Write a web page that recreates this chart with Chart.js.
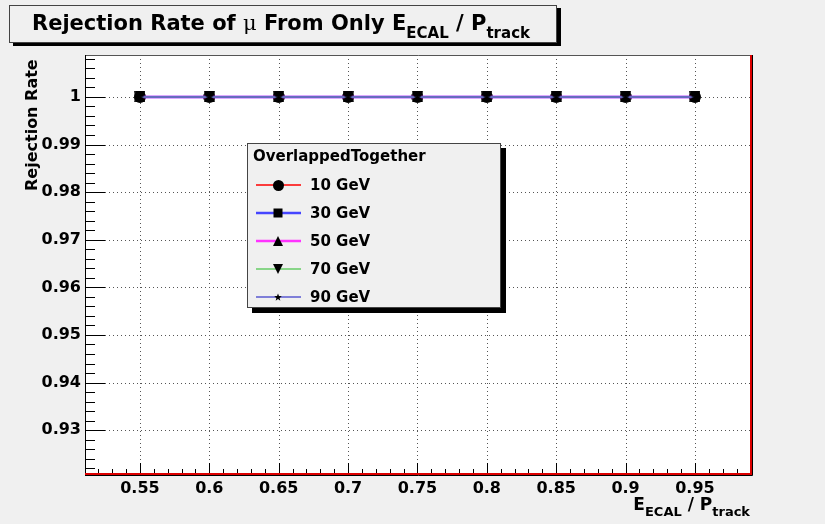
<!DOCTYPE html>
<html><head><meta charset="utf-8">
<script src="https://cdn.jsdelivr.net/npm/chart.js@4/dist/chart.umd.min.js"></script>
<style>
html,body{margin:0;padding:0;background:#f0f0f0;width:825px;height:524px;overflow:hidden;}
#wrap{position:relative;width:825px;height:524px;}
#c{position:absolute;left:0;top:0;}
.t{position:absolute;font-family:"DejaVu Sans";font-weight:bold;color:#000;white-space:nowrap;line-height:1;}
#title{left:9px;top:5px;width:548px;height:38px;border:1px solid #444;background:#f0f0f0;box-shadow:4px 3px 0 #000;box-sizing:border-box;}
#title .txt{position:absolute;left:22px;top:7px;font-size:21px;}
.sub{position:relative;top:8px;font-size:15px;}
.mu{font-family:"DejaVu Serif";font-weight:normal;}
#xt{right:75px;top:496px;font-size:17px;}
#xt .sub{top:6px;font-size:13px;}
#yt{left:24px;top:57px;font-size:16px;transform-origin:0 0;transform:translate(0,134px) rotate(-90deg);}
</style></head>
<body><div id="wrap">
<canvas id="c" width="825" height="524"></canvas>
<div id="title" class="t"><span class="txt">Rejection Rate of <span class="mu">μ</span> From Only E<span class="sub">ECAL</span> / P<span class="sub">track</span></span></div>
<div id="xt" class="t">E<span class="sub">ECAL</span> / P<span class="sub">track</span></div>
<div id="yt" class="t">Rejection Rate</div>
</div>
<script>
// ---- data ----
const eOverP = [0.55, 0.60, 0.65, 0.70, 0.75, 0.80, 0.85, 0.90, 0.95];
const seriesNames = ['10 GeV', '30 GeV', '50 GeV', '70 GeV', '90 GeV'];
const rate10 = [1, 1, 1, 1, 1, 1, 1, 1, 1];
const rate30 = [1, 1, 1, 1, 1, 1, 1, 1, 1];
const rate50 = [1, 1, 1, 1, 1, 1, 1, 1, 1];
const rate70 = [1, 1, 1, 1, 1, 1, 1, 1, 1];
const rate90 = [1, 1, 1, 1, 1, 1, 1, 1, 1];
const xTickLabels = [0.55, 0.6, 0.65, 0.7, 0.75, 0.8, 0.85, 0.9, 0.95];
const yTickLabels = [0.93, 0.94, 0.95, 0.96, 0.97, 0.98, 0.99, 1];
const xRange = [0.5104, 0.9904];
const yRange = [0.9208, 1.0088];
const legendTitle = 'OverlappedTogether';

// ---- styles ----
const lineColors = ['#ff0000', '#4545ff', '#ff33ff', '#66cc66', '#5a5ad0'];
const lineWidths = [1.5, 2.5, 2.5, 1.5, 1.5];
const markerTypes = ['circle', 'square', 'tri', 'itri', 'star'];
const FONT = '"DejaVu Sans"';

function makeMarker(type, s) {
  const c = document.createElement('canvas');
  c.width = s; c.height = s;
  const g = c.getContext('2d');
  g.fillStyle = '#000';
  const h = s / 2;
  g.beginPath();
  if (type === 'circle') { g.arc(h, h, h, 0, Math.PI * 2); }
  else if (type === 'square') { g.rect(0.5, 0.5, s - 1, s - 1); }
  else if (type === 'tri') { g.moveTo(h, 0); g.lineTo(s, s); g.lineTo(0, s); g.closePath(); }
  else if (type === 'itri') { g.moveTo(0, 0); g.lineTo(s, 0); g.lineTo(h, s); g.closePath(); }
  else if (type === 'star') {
    for (let i = 0; i < 10; i++) {
      const r = i % 2 === 0 ? h : h * 0.42;
      const a = -Math.PI / 2 + i * Math.PI / 5;
      const px = h + r * Math.cos(a), py = h + r * Math.sin(a) + s * 0.05;
      if (i === 0) g.moveTo(px, py); else g.lineTo(px, py);
    }
    g.closePath();
  }
  g.fill();
  return c;
}
const markerSizes = [12, 11, 11, 11, 9];
const markers = markerTypes.map((t, i) => makeMarker(t, markerSizes[i]));
const legendMarkers = markerTypes.map((t, i) => makeMarker(t, markerSizes[i] - 1));

const allRates = [rate10, rate30, rate50, rate70, rate90];
const datasets = allRates.map((vals, i) => ({
  label: seriesNames[i],
  data: eOverP.map((x, k) => ({ x: x, y: vals[k] })),
  borderColor: lineColors[i],
  borderWidth: lineWidths[i],
  pointStyle: markers[i],
  pointRadius: 5,
  fill: false,
  tension: 0,
  order: 4 - i
}));

function fmt(v) { return String(Math.round(v * 1000) / 1000); }

const rootPlugin = {
  id: 'rootStyle',
  beforeDraw(chart) {
    const { ctx, chartArea: a } = chart;
    ctx.save();
    ctx.fillStyle = '#ffffff';
    ctx.fillRect(a.left, a.top, a.right - a.left, a.bottom - a.top);
    ctx.restore();
  },
  beforeDatasetsDraw(chart) {
    const { ctx, chartArea: a, scales: { x, y } } = chart;
    ctx.save();
    ctx.strokeStyle = '#555';
    ctx.lineWidth = 1;
    ctx.setLineDash([1, 3]);
    xTickLabels.forEach(v => {
      const px = Math.round(x.getPixelForValue(v)) + 0.5;
      ctx.beginPath(); ctx.moveTo(px, a.top); ctx.lineTo(px, a.bottom); ctx.stroke();
    });
    yTickLabels.forEach(v => {
      const py = Math.round(y.getPixelForValue(v)) + 0.5;
      ctx.beginPath(); ctx.moveTo(a.left, py); ctx.lineTo(a.right, py); ctx.stroke();
    });
    ctx.setLineDash([]);
    ctx.strokeStyle = '#000';
    const xStep = 0.01, yStep = 0.002;
    for (let k = Math.ceil(xRange[0] / xStep); k * xStep <= xRange[1] + 1e-9; k++) {
      const v = k * xStep;
      const major = Math.abs(v / 0.05 - Math.round(v / 0.05)) < 1e-6;
      const len = major ? 11 : 5;
      const px = Math.round(x.getPixelForValue(v)) + 0.5;
      ctx.beginPath(); ctx.moveTo(px, a.bottom); ctx.lineTo(px, a.bottom - len); ctx.stroke();
    }
    for (let k = Math.ceil(yRange[0] / yStep); k * yStep <= yRange[1] + 1e-9; k++) {
      const v = k * yStep;
      const major = Math.abs(v / 0.01 - Math.round(v / 0.01)) < 1e-6;
      const len = major ? 20 : 10;
      const py = Math.round(y.getPixelForValue(v)) + 0.5;
      ctx.beginPath(); ctx.moveTo(a.left, py); ctx.lineTo(a.left + len, py); ctx.stroke();
    }
    ctx.restore();
  },
  afterDatasetsDraw(chart) {
    const { ctx, chartArea: a } = chart;
    ctx.save();
    ctx.strokeStyle = '#555';
    ctx.lineWidth = 1;
    ctx.beginPath();
    ctx.moveTo(a.left + 0.5, a.bottom); ctx.lineTo(a.left + 0.5, a.top + 0.5); ctx.lineTo(a.right, a.top + 0.5);
    ctx.stroke();
    ctx.strokeStyle = '#000';
    ctx.beginPath(); ctx.moveTo(a.left + 0.5, a.top); ctx.lineTo(a.left + 0.5, a.bottom); ctx.stroke();
    ctx.strokeStyle = '#dd0000';
    ctx.lineWidth = 2;
    ctx.beginPath();
    ctx.moveTo(a.left, a.bottom); ctx.lineTo(a.right, a.bottom); ctx.lineTo(a.right, a.top);
    ctx.stroke();
    ctx.strokeStyle = '#000'; ctx.lineWidth = 1;
    ctx.beginPath(); ctx.moveTo(a.left, a.bottom + 1.5); ctx.lineTo(a.right + 1.5, a.bottom + 1.5); ctx.lineTo(a.right + 1.5, a.top); ctx.stroke();

    // legend
    const L = { x: 247, y: 143, w: 254, h: 165 };
    ctx.fillStyle = '#000';
    ctx.fillRect(L.x + 5, L.y + 5, L.w, L.h);
    ctx.fillStyle = '#f0f0f0';
    ctx.fillRect(L.x, L.y, L.w, L.h);
    ctx.strokeStyle = '#444';
    ctx.lineWidth = 1;
    ctx.strokeRect(L.x + 0.5, L.y + 0.5, L.w - 1, L.h - 1);
    ctx.fillStyle = '#000';
    ctx.textBaseline = 'middle';
    ctx.textAlign = 'left';
    ctx.font = 'bold 15px ' + FONT;
    ctx.fillText(legendTitle, L.x + 6, L.y + 14);
    seriesNames.forEach((name, i) => {
      const cy = L.y + 42 + i * 28;
      ctx.strokeStyle = lineColors[i];
      ctx.lineWidth = lineWidths[i];
      ctx.beginPath(); ctx.moveTo(L.x + 9, cy); ctx.lineTo(L.x + 54, cy); ctx.stroke();
      const m = legendMarkers[i];
      ctx.drawImage(m, Math.round(L.x + 31 - m.width / 2), Math.round(cy - m.height / 2));
      ctx.fillStyle = '#000';
      ctx.font = 'bold 15px ' + FONT;
      ctx.fillText(name, L.x + 63, cy + 1);
    });
    ctx.restore();
  }
};

new Chart(document.getElementById('c'), {
  type: 'line',
  data: { datasets: datasets },
  options: {
    responsive: false,
    animation: false,
    events: [],
    layout: { padding: { left: 0, top: 55, right: 74, bottom: 0 } },
    plugins: { legend: { display: false }, tooltip: { enabled: false }, title: { display: false } },
    scales: {
      x: {
        type: 'linear', min: xRange[0], max: xRange[1],
        afterBuildTicks: s => { s.ticks = xTickLabels.map(v => ({ value: v })); },
        afterFit: s => { s.height = 50; },
        ticks: { callback: v => fmt(v), color: '#000', font: { family: FONT, weight: 'bold', size: 16 }, padding: 5, maxRotation: 0, autoSkip: false },
        grid: { display: false, drawTicks: false },
        border: { display: false }
      },
      y: {
        type: 'linear', min: yRange[0], max: yRange[1],
        afterBuildTicks: s => { s.ticks = yTickLabels.map(v => ({ value: v })); },
        afterFit: s => { s.width = 85; },
        ticks: { callback: v => fmt(v), color: '#000', font: { family: FONT, weight: 'bold', size: 16 }, padding: 4, autoSkip: false },
        grid: { display: false, drawTicks: false },
        border: { display: false }
      }
    }
  },
  plugins: [rootPlugin]
});
</script>
</body></html>
